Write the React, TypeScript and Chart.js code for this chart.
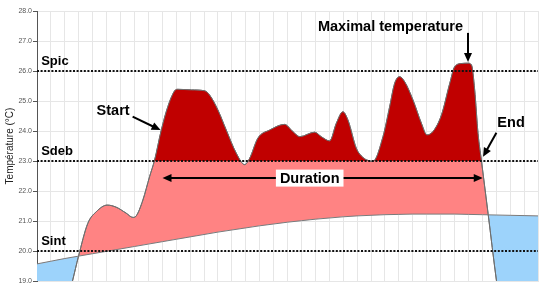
import React, { useEffect, useRef } from "react";
import { Chart, registerables } from "chart.js";

Chart.register(...registerables);

// Temperature curve (hour index, °C)
const curveHours = [
  0, 1.3, 2.55, 2.98, 3.65, 4.26, 5.05, 5.69, 6.41, 6.89, 7.13, 7.61, 8.09, 8.45, 8.93, 9.4, 9.89, 10.12,
  11.1, 12.04, 12.4, 13.0, 13.6, 14.32, 14.92, 15.28, 15.87, 16.71, 17.79, 18.39, 18.87, 19.95, 20.43,
  21.03, 21.51, 21.98, 22.34, 22.95, 23.42, 23.78, 24.14, 24.86, 25.34, 25.7, 26.06, 26.42, 27.02,
  27.62, 28.02, 28.45, 29.06, 29.66, 30.01, 30.52, 30.97, 31.22, 31.45, 31.69, 31.93, 32.41, 33.01,
  34, 36,
];
const curveTemps = [
  14.3, 16.8, 19.0, 19.82, 20.92, 21.31, 21.53, 21.46, 21.26, 21.12, 21.17, 21.7, 22.48, 23.03, 24.03,
  24.81, 25.34, 25.39, 25.37, 25.34, 25.2, 24.7, 24.03, 23.26, 22.88, 23.09, 23.76, 24.03, 24.22, 23.98,
  23.81, 23.96, 23.81, 23.67, 24.26, 24.64, 24.37, 23.42, 23.12, 23.02, 22.99, 23.81, 24.81, 25.59,
  25.81, 25.64, 25.03, 24.26, 23.87, 23.98, 24.53, 25.59, 26.14, 26.25, 26.26, 26.2, 25.37, 23.92,
  23.03, 21.26, 19.03, 16.0, 13.0,
];

// Slowly varying reference (interior) temperature
const baseHours = [
  0, 1, 2, 3, 4, 5, 6, 7, 8, 9, 10, 11, 12, 13, 14, 15, 16, 17, 18, 19, 20, 21, 22, 23, 24, 25, 26, 27,
  28, 29, 30, 31, 32, 33, 34, 35, 36,
];
const baseTemps = [
  19.57, 19.66, 19.75, 19.83, 19.91, 19.99, 20.07, 20.15, 20.23, 20.31, 20.39, 20.47, 20.55, 20.63,
  20.7, 20.77, 20.84, 20.9, 20.96, 21.01, 21.06, 21.1, 21.14, 21.17, 21.19, 21.21, 21.22, 21.23, 21.23,
  21.23, 21.23, 21.22, 21.21, 21.2, 21.19, 21.18, 21.17,
];

// Thresholds
const thresholdNames = ["Spic", "Sdeb", "Sint"];
const thresholdValues = [26, 23, 20];

// Event positions (hour, °C)
const durationStart = 9.02;
const durationEnd = 32.03;
const durationLevel = 22.43;
const maxHour = 30.97;
const maxTemp = 26.3;

const FONT = "'Liberation Sans', Arial, sans-serif";

function drawArrowHead(ctx: CanvasRenderingContext2D, x0: number, y0: number, x1: number, y1: number) {
  const a = Math.atan2(y1 - y0, x1 - x0);
  const len = 9;
  const w = 4;
  ctx.beginPath();
  ctx.moveTo(x1, y1);
  ctx.lineTo(x1 - len * Math.cos(a) + w * Math.sin(a), y1 - len * Math.sin(a) - w * Math.cos(a));
  ctx.lineTo(x1 - len * Math.cos(a) - w * Math.sin(a), y1 - len * Math.sin(a) + w * Math.cos(a));
  ctx.closePath();
  ctx.fill();
}

function drawArrow(ctx: CanvasRenderingContext2D, x0: number, y0: number, x1: number, y1: number, both = false) {
  const a = Math.atan2(y1 - y0, x1 - x0);
  ctx.beginPath();
  ctx.moveTo(x0 + (both ? 6 * Math.cos(a) : 0), y0 + (both ? 6 * Math.sin(a) : 0));
  ctx.lineTo(x1 - 6 * Math.cos(a), y1 - 6 * Math.sin(a));
  ctx.stroke();
  drawArrowHead(ctx, x0, y0, x1, y1);
  if (both) drawArrowHead(ctx, x1, y1, x0, y0);
}

const notesPlugin = {
  id: "notes",
  afterDatasetsDraw(chart: any) {
    const { ctx, scales } = chart;
    const x = scales.x;
    const y = scales.y;
    ctx.save();
    ctx.fillStyle = "#000";
    ctx.strokeStyle = "#000";
    ctx.lineWidth = 2;
    ctx.textBaseline = "middle";

    // threshold labels
    ctx.font = `bold 13px ${FONT}`;
    ctx.textAlign = "left";
    thresholdNames.forEach((n, i) => {
      ctx.fillText(n, x.getPixelForValue(0.3), y.getPixelForValue(thresholdValues[i] + 0.33));
    });

    ctx.font = `bold 14.5px ${FONT}`;
    // Start
    ctx.fillText("Start", x.getPixelForValue(4.28), y.getPixelForValue(24.68));
    drawArrow(ctx, x.getPixelForValue(6.87), y.getPixelForValue(24.48), x.getPixelForValue(8.88), y.getPixelForValue(24.03));
    // End
    ctx.fillText("End", x.getPixelForValue(33.08), y.getPixelForValue(24.27));
    drawArrow(ctx, x.getPixelForValue(33.01), y.getPixelForValue(23.94), x.getPixelForValue(32.05), y.getPixelForValue(23.14));
    // Maximal temperature
    ctx.textAlign = "right";
    ctx.fillText("Maximal temperature", x.getPixelForValue(30.61), y.getPixelForValue(27.46));
    drawArrow(ctx, x.getPixelForValue(maxHour), y.getPixelForValue(27.27), x.getPixelForValue(maxHour), y.getPixelForValue(maxTemp));
    // Duration
    const yd = y.getPixelForValue(durationLevel);
    drawArrow(ctx, x.getPixelForValue(durationStart), yd, x.getPixelForValue(durationEnd), yd, true);
    const cx = x.getPixelForValue((durationStart + durationEnd) / 2 - 0.93);
    const tw = ctx.measureText("Duration").width;
    ctx.fillStyle = "#fff";
    ctx.fillRect(cx - tw / 2 - 4, yd - 8.5, tw + 8, 17);
    ctx.fillStyle = "#000";
    ctx.textAlign = "center";
    ctx.fillText("Duration", cx, yd + 1);
    ctx.restore();
  },
};

export default function App() {
  const ref = useRef<HTMLCanvasElement | null>(null);

  useEffect(() => {
    if (!ref.current) return;
    const curve = curveHours.map((h, i) => ({ x: h, y: curveTemps[i] }));
    const base = baseHours.map((h, i) => ({ x: h, y: baseTemps[i] }));
    const thresholdSets = thresholdValues.map((v, i) => ({
      label: thresholdNames[i],
      data: [
        { x: 0, y: v },
        { x: 36, y: v },
      ],
      borderColor: "#111",
      borderWidth: 2,
      borderDash: [2, 1.6],
      pointRadius: 0,
      fill: false,
      order: 0,
    }));

    const chart = new Chart(ref.current, {
      type: "line",
      data: {
        datasets: [
          ...thresholdSets,
          {
            label: "above Sdeb",
            data: curve,
            borderColor: "#6e6e6e",
            borderWidth: 1,
            pointRadius: 0,
            cubicInterpolationMode: "monotone",
            fill: { value: 23, above: "#c00000", below: "rgba(0,0,0,0)" },
            clip: 0,
            order: 2,
          },
          {
            label: "temperature",
            data: curve,
            borderColor: "#6e6e6e",
            borderWidth: 1,
            pointRadius: 0,
            cubicInterpolationMode: "monotone",
            fill: { target: 5, above: "#ff8383", below: "#9dd3fb" },
            clip: 0,
            order: 3,
          },
          {
            label: "reference",
            data: base,
            borderColor: "#7a7a7a",
            borderWidth: 1,
            pointRadius: 0,
            cubicInterpolationMode: "monotone",
            fill: false,
            clip: 0,
            order: 1,
          },
        ] as any,
      },
      options: {
        animation: false,
        responsive: true,
        maintainAspectRatio: false,
        layout: { padding: { top: 11, right: 9, left: 0, bottom: 0 } },
        plugins: { legend: { display: false }, tooltip: { enabled: false }, title: { display: false } },
        scales: {
          x: {
            type: "linear",
            min: 0,
            max: 36,
            ticks: { display: false, stepSize: 1 },
            grid: { color: "#e6e6e6", drawTicks: false },
            border: { color: "#e6e6e6" },
            afterFit: (s: any) => {
              s.height = 10;
            },
          },
          y: {
            min: 19,
            max: 28,
            ticks: {
              stepSize: 1,
              padding: 1,
              color: "#555",
              font: { family: FONT, size: 7 },
              callback: (v: any) => Number(v).toFixed(1),
            },
            grid: { color: "#e6e6e6", tickColor: "#555", tickLength: 4 },
            border: { color: "#555", width: 1 },
            title: {
              display: true,
              text: "Température (°C)",
              color: "#222",
              font: { family: FONT, size: 10 },
              padding: { top: 4, bottom: 0 },
            },
            afterFit: (s: any) => {
              s.width = 37;
            },
          },
        },
      } as any,
      plugins: [notesPlugin],
    });
    return () => chart.destroy();
  }, []);

  return (
    <div style={{ position: "fixed", left: 0, top: 0, width: 547, height: 291, background: "#fff" }}>
      <canvas ref={ref} />
    </div>
  );
}
